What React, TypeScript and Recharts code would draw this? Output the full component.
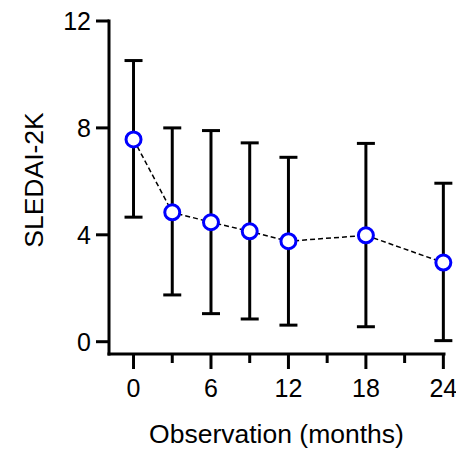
import React from 'react';
import { ComposedChart, Line, XAxis, YAxis, ErrorBar, Label } from 'recharts';

const months = [0, 3, 6, 9, 12, 18, 24];
const meanValues = [7.57, 4.84, 4.47, 4.13, 3.76, 3.98, 2.96];
const upperValues = [10.52, 8.0, 7.9, 7.44, 6.9, 7.42, 5.93];
const lowerValues = [4.66, 1.75, 1.05, 0.85, 0.62, 0.56, 0.04];
const xTicks = [0, 3, 6, 9, 12, 15, 18, 21, 24];
const xMajorTicks = [0, 6, 12, 18, 24];
const yTicks = [0, 4, 8, 12];

const data = months.map((m, i) => ({
  month: m,
  mean: meanValues[i],
  err: [meanValues[i] - lowerValues[i], upperValues[i] - meanValues[i]],
}));

const FONT = '"Liberation Sans", Arial, Helvetica, sans-serif';

const XTick = (props: any) => {
  const { x, y, payload } = props;
  const major = xMajorTicks.includes(payload.value);
  return (
    <g>
      <line x1={x} x2={x} y1={y} y2={y + (major ? 15 : 9)} stroke="#000" strokeWidth={3} />
      {major && (
        <text x={x} y={y + 43} textAnchor="middle" fontSize={25} fontFamily={FONT} fill="#000">
          {payload.value}
        </text>
      )}
    </g>
  );
};

const XTitle = (props: any) => {
  const { viewBox } = props;
  return (
    <text
      x={viewBox.x + viewBox.width / 2}
      y={viewBox.y + 89}
      textAnchor="middle"
      fontSize={26.5}
      fontFamily={FONT}
      fill="#000"
    >
      Observation (months)
    </text>
  );
};

const YTitle = (props: any) => {
  const { viewBox } = props;
  const cx = 43;
  const cy = viewBox.y + 159;
  return (
    <text
      x={cx}
      y={cy}
      transform={`rotate(-90 ${cx} ${cy})`}
      textAnchor="middle"
      fontSize={26.5}
      fontFamily={FONT}
      fill="#000"
    >
      SLEDAI-2K
    </text>
  );
};

export default function App() {
  return (
    <div style={{ position: 'absolute', left: 0, top: 0, background: '#fff' }}>
      <ComposedChart width={456} height={449} data={data} margin={{ top: 21, right: 12, left: 0, bottom: 0 }}>
        <XAxis
          dataKey="month"
          type="number"
          domain={[-1.9, 24.05]}
          ticks={xTicks}
          interval={0}
          height={95}
          tickSize={0}
          tickMargin={0}
          tickLine={false}
          tick={<XTick />}
          axisLine={{ stroke: '#000', strokeWidth: 3, strokeLinecap: 'square' }}
        >
          <Label content={<XTitle />} />
        </XAxis>
        <YAxis
          type="number"
          domain={[-0.46, 12]}
          ticks={yTicks}
          interval={0}
          width={109}
          tickSize={13}
          tickMargin={5}
          tickLine={{ stroke: '#000', strokeWidth: 3 }}
          axisLine={{ stroke: '#000', strokeWidth: 3, strokeLinecap: 'square' }}
          tick={{ fontSize: 25, fontFamily: FONT, fill: '#000' }}
        >
          <Label content={<YTitle />} />
        </YAxis>
        <Line
          dataKey="mean"
          stroke="none"
          isAnimationActive={false}
          dot={{ r: 7.5, stroke: '#0000ff', strokeWidth: 3, fill: '#fff' }}
          activeDot={false}
        >
          <ErrorBar dataKey="err" width={9} stroke="#000" strokeWidth={3} isAnimationActive={false} />
        </Line>
        <Line
          dataKey="mean"
          stroke="#000"
          strokeWidth={1.5}
          strokeDasharray="5 3"
          dot={false}
          activeDot={false}
          isAnimationActive={false}
        />
      </ComposedChart>
    </div>
  );
}
